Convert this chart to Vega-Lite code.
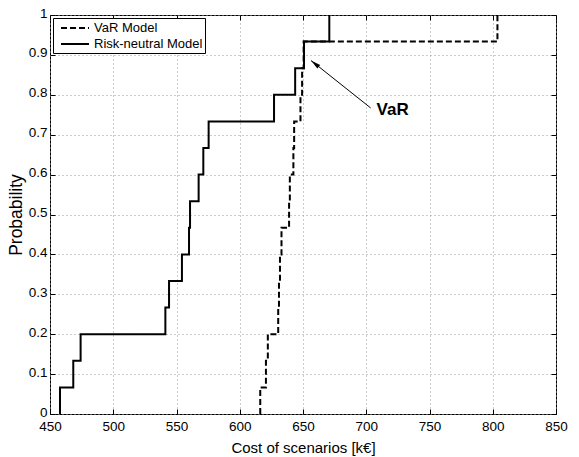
{
  "$schema": "https://vega.github.io/schema/vega-lite/v6.json",
  "width": 506,
  "height": 399,
  "autosize": {"type": "none"},
  "padding": {"left": 50, "top": 15, "right": 23, "bottom": 43},
  "background": "white",
  "config": {
    "font": "Liberation Sans",
    "view": {"stroke": "black", "strokeWidth": 1},
    "axis": {
      "labelFont": "Liberation Sans",
      "titleFont": "Liberation Sans",
      "labelFontSize": 13.5,
      "titleFontSize": 15,
      "titleFontWeight": "normal",
      "labelColor": "black",
      "titleColor": "black",
      "domain": false,
      "tickColor": "black",
      "tickSize": -5,
      "labelPadding": 8,
      "labelFlush": false,
      "gridColor": "#999999",
      "gridDash": [1, 3],
      "gridOpacity": 1,
      "gridWidth": 1
    },
    "legend": {
      "labelFont": "Liberation Sans",
      "labelFontSize": 13,
      "labelColor": "black"
    }
  },
  "datasets": {
    "cdf": [
      {"model": "Risk-neutral Model", "cost": 457.9, "prob": 0},
      {"model": "Risk-neutral Model", "cost": 457.9, "prob": 0.0667},
      {"model": "Risk-neutral Model", "cost": 468.4, "prob": 0.1333},
      {"model": "Risk-neutral Model", "cost": 474.2, "prob": 0.2},
      {"model": "Risk-neutral Model", "cost": 541.2, "prob": 0.2667},
      {"model": "Risk-neutral Model", "cost": 544.1, "prob": 0.3333},
      {"model": "Risk-neutral Model", "cost": 554.3, "prob": 0.4},
      {"model": "Risk-neutral Model", "cost": 559.9, "prob": 0.4667},
      {"model": "Risk-neutral Model", "cost": 560.7, "prob": 0.5333},
      {"model": "Risk-neutral Model", "cost": 567.5, "prob": 0.6},
      {"model": "Risk-neutral Model", "cost": 571.2, "prob": 0.6667},
      {"model": "Risk-neutral Model", "cost": 575.4, "prob": 0.7333},
      {"model": "Risk-neutral Model", "cost": 627.1, "prob": 0.8},
      {"model": "Risk-neutral Model", "cost": 643.8, "prob": 0.8667},
      {"model": "Risk-neutral Model", "cost": 650.8, "prob": 0.9333},
      {"model": "Risk-neutral Model", "cost": 670.8, "prob": 1},
      {"model": "VaR Model", "cost": 616.2, "prob": 0},
      {"model": "VaR Model", "cost": 616.2, "prob": 0.0667},
      {"model": "VaR Model", "cost": 620.7, "prob": 0.1333},
      {"model": "VaR Model", "cost": 622.2, "prob": 0.2},
      {"model": "VaR Model", "cost": 630.4, "prob": 0.2667},
      {"model": "VaR Model", "cost": 631.0, "prob": 0.3333},
      {"model": "VaR Model", "cost": 631.8, "prob": 0.4},
      {"model": "VaR Model", "cost": 633.0, "prob": 0.4667},
      {"model": "VaR Model", "cost": 639.0, "prob": 0.5333},
      {"model": "VaR Model", "cost": 639.6, "prob": 0.6},
      {"model": "VaR Model", "cost": 642.4, "prob": 0.6667},
      {"model": "VaR Model", "cost": 643.0, "prob": 0.7333},
      {"model": "VaR Model", "cost": 648.0, "prob": 0.8},
      {"model": "VaR Model", "cost": 649.3, "prob": 0.8667},
      {"model": "VaR Model", "cost": 650.5, "prob": 0.9333},
      {"model": "VaR Model", "cost": 803.7, "prob": 1}
    ],
    "arrow": [
      {"x": 703.5, "y": 0.767, "x2": 656.3, "y2": 0.886}
    ],
    "label": [
      {"x": 708.2, "y": 0.762, "text": "VaR"}
    ]
  },
  "layer": [
    {
      "data": {"name": "cdf"},
      "mark": {"type": "line", "interpolate": "step-after", "color": "black", "strokeWidth": 2},
      "encoding": {
        "x": {
          "field": "cost", "type": "quantitative",
          "scale": {"domain": [450, 850], "nice": false, "zero": false},
          "axis": {"values": [450, 500, 550, 600, 650, 700, 750, 800, 850], "title": "Cost of scenarios [k€]", "titlePadding": 8, "labelPadding": 10, "grid": true}
        },
        "y": {
          "field": "prob", "type": "quantitative",
          "scale": {"domain": [0, 1], "nice": false},
          "axis": {"values": [0, 0.1, 0.2, 0.3, 0.4, 0.5, 0.6, 0.7, 0.8, 0.9, 1], "format": "~g", "title": "Probability", "titleFontSize": 17.5, "labelFontSize": 13.5, "labelOffset": -2, "titlePadding": 3, "grid": true}
        },
        "strokeDash": {
          "field": "model", "type": "nominal",
          "scale": {"domain": ["VaR Model", "Risk-neutral Model"], "range": [[6, 3], [1, 0]]},
          "legend": {
            "title": null,
            "orient": "top-left",
            "offset": 3,
            "padding": 2,
            "strokeColor": "black",
            "fillColor": "white",
            "symbolType": "M-0.286,0L3.714,0",
            "symbolSize": 196,
            "symbolStrokeWidth": 2,
            "symbolStrokeColor": "black",
            "rowPadding": 1,
            "labelOffset": 23
          }
        },
        "detail": {"field": "model"}
      }
    },
    {
      "data": {"name": "arrow"},
      "mark": {"type": "rule", "color": "black", "strokeWidth": 1},
      "encoding": {
        "x": {"field": "x", "type": "quantitative", "axis": {"orient": "top", "values": [450, 500, 550, 600, 650, 700, 750, 800, 850], "labels": false, "title": null, "grid": false}},
        "y": {"field": "y", "type": "quantitative", "axis": {"orient": "right", "values": [0, 0.1, 0.2, 0.3, 0.4, 0.5, 0.6, 0.7, 0.8, 0.9, 1], "labels": false, "title": null, "grid": false}},
        "x2": {"field": "x2"},
        "y2": {"field": "y2"}
      }
    },
    {
      "data": {"name": "arrow"},
      "mark": {"type": "point", "shape": "M0,0L0.45,2L-0.45,2Z", "filled": true, "color": "black", "size": 100, "angle": 309, "opacity": 1},
      "encoding": {
        "x": {"field": "x2", "type": "quantitative", "axis": null},
        "y": {"field": "y2", "type": "quantitative", "axis": null}
      }
    },
    {
      "data": {"name": "label"},
      "mark": {"type": "text", "align": "left", "baseline": "middle", "fontWeight": "bold", "fontSize": 17, "color": "black", "font": "Liberation Sans"},
      "encoding": {
        "x": {"field": "x", "type": "quantitative", "axis": null},
        "y": {"field": "y", "type": "quantitative", "axis": null},
        "text": {"field": "text"}
      }
    }
  ],
  "resolve": {"axis": {"x": "independent", "y": "independent"}}
}
